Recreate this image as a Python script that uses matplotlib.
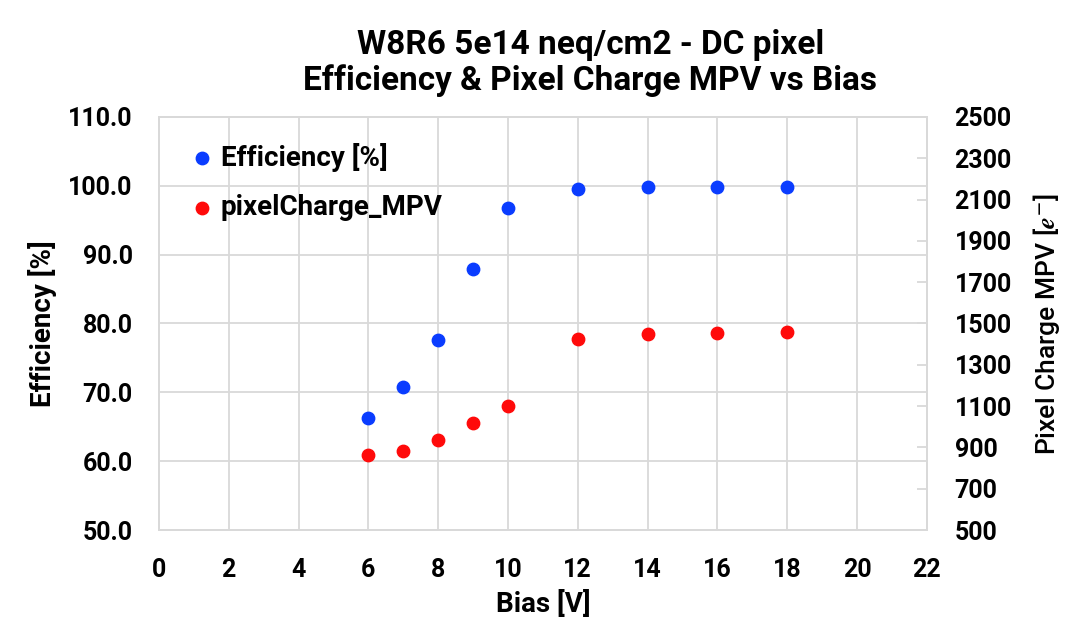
import matplotlib.pyplot as plt
from matplotlib import font_manager

# pick a narrow bold font if there is one
names = set(f.name for f in font_manager.fontManager.ttflist)
fam = 'Liberation Sans Narrow' if 'Liberation Sans Narrow' in names else 'Roboto'
plt.rcParams['font.family'] = [fam, 'DejaVu Sans']
plt.rcParams['font.weight'] = 'bold'
plt.rcParams['mathtext.fontset'] = 'stix'

# data
bias = [6, 7, 8, 9, 10, 12, 14, 16, 18]
efficiency = [66.3, 70.8, 77.6, 87.9, 96.8, 99.6, 99.8, 99.8, 99.8]
charge_mpv = [863, 882, 935, 1019, 1100, 1427, 1448, 1455, 1461]

grid_col = '#d9d9d9'

fig = plt.figure(figsize=(10.89, 6.24), dpi=100)
ax = fig.add_axes([0.146, 0.1506, 0.705, 0.662])
ax2 = ax.twinx()

ax.scatter(bias, efficiency, s=80, color='#0a3cff', zorder=3, label='Efficiency [%]')
ax2.scatter(bias, charge_mpv, s=80, color='#ff0a0a', zorder=3, label='pixelCharge_MPV')

ax.set_xlim(0, 22)
ax.set_ylim(50, 110)
ax2.set_ylim(500, 2500)
ax.set_xticks(range(0, 23, 2))
ax.set_yticks(range(50, 111, 10))
ax.set_yticklabels([f'{v:.1f}' for v in range(50, 111, 10)])
ax2.set_yticks(range(500, 2501, 200))

ax.grid(True, color=grid_col, lw=1.3)
ax.set_axisbelow(True)
for a in (ax, ax2):
    for s in a.spines.values():
        s.set_color(grid_col)
        s.set_linewidth(1.3)
ax.tick_params(axis='x', length=0, labelsize=18, pad=20)
ax.tick_params(axis='y', length=0, labelsize=18, pad=19)
ax2.tick_params(axis='y', direction='in', length=7, width=1.3, color=grid_col,
                labelsize=18, pad=20)

ax.set_xlabel('Bias [V]', fontsize=20, fontweight='bold', labelpad=6)
ax.set_ylabel('Efficiency [%]', fontsize=20, fontweight='bold', labelpad=8)
ax2.set_ylabel('Pixel Charge MPV [$e^{-}$]', fontsize=19, fontweight='medium', labelpad=14)

fig.suptitle('W8R6 5e14 neq/cm2 - DC pixel\nEfficiency & Pixel Charge MPV vs Bias',
             fontsize=24, fontweight='bold', x=0.542, y=0.953, linespacing=1.12)

h1, l1 = ax.get_legend_handles_labels()
h2, l2 = ax2.get_legend_handles_labels()
ax.legend(h1 + h2, l1 + l2, loc='upper left', bbox_to_anchor=(0.012, 0.985),
          frameon=False, fontsize=20, handlelength=1.0, handletextpad=0.2,
          labelspacing=0.8, borderaxespad=0.3)

plt.savefig('out.png', dpi=100)
